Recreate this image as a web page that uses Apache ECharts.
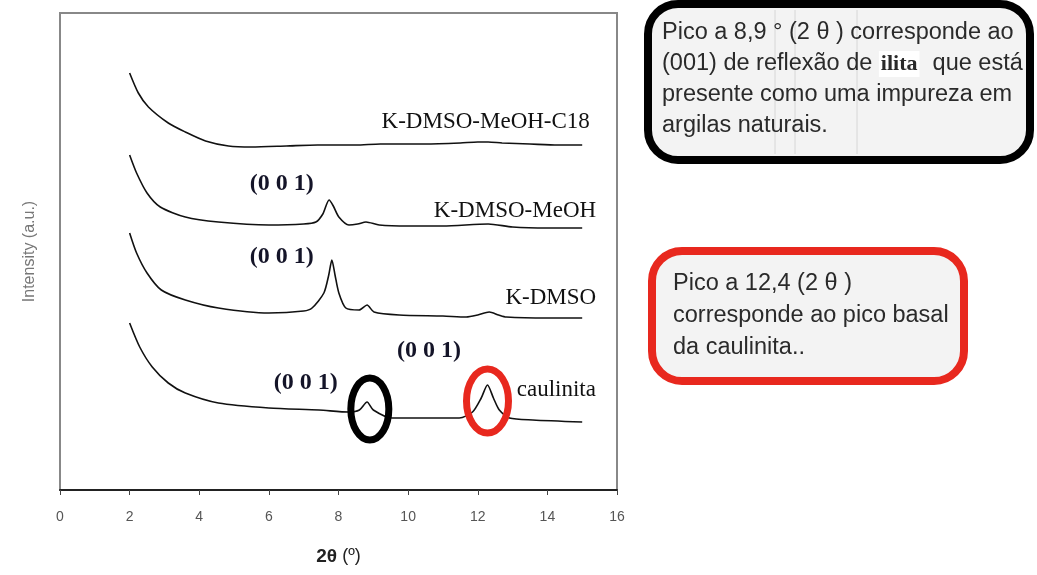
<!DOCTYPE html>
<html>
<head>
<meta charset="utf-8">
<script src="https://cdn.jsdelivr.net/npm/echarts@6/dist/echarts.min.js"></script>
<style>
  html, body { margin: 0; padding: 0; background: #fff; }
  #chart { width: 1037px; height: 575px; }
</style>
</head>
<body>
<div id="chart"></div>
<script>
// 2theta ticks
let xTicks = [0, 2, 4, 6, 8, 10, 12, 14, 16];

// K-DMSO-MeOH-C18 (top trace)
let c18X = [2.0, 2.25, 2.54, 3.11, 3.6, 4.18, 4.84, 5.5, 6.5, 7.4, 8.5, 9.2, 10.5, 11.5, 12.0, 12.3, 12.7, 13.5, 14.3, 15.0];
let c18Y = [417, 397, 383, 367, 358, 349, 344, 343, 344, 345, 345, 346, 346, 347, 348, 348, 347, 346, 345, 345];

// K-DMSO-MeOH
let meohX = [2.0, 2.2, 2.5, 2.88, 3.6, 4.55, 6.0, 7.0, 7.35, 7.55, 7.73, 7.85, 8.01, 8.3, 8.55, 8.79, 9.17, 10.0, 11.0, 12.3, 13.0, 14.0, 15.0];
let meohY = [335, 317, 297, 283, 273, 268, 265, 266, 268, 276, 290, 284, 273, 265, 266, 268, 265, 264, 264, 266, 263, 262, 262];

// K-DMSO
let dmsoX = [2.0, 2.2, 2.5, 2.91, 3.6, 4.55, 6.0, 7.0, 7.24, 7.58, 7.72, 7.81, 7.9, 8.01, 8.21, 8.59, 8.82, 9.02, 9.74, 11.0, 11.67, 12.0, 12.33, 12.6, 12.82, 14.0, 15.0];
let dmsoY = [257, 237, 217, 200, 190, 182, 177, 179, 182, 197, 215, 230, 215, 197, 182, 180, 185, 178, 175, 174, 173, 175, 178, 175, 173, 172, 172];

// caulinita (bottom trace)
let kaolX = [2.0, 2.29, 2.65, 3.11, 3.6, 4.55, 6.0, 7.44, 8.3, 8.6, 8.82, 9.0, 9.54, 10.7, 11.47, 11.85, 12.1, 12.28, 12.45, 12.62, 12.91, 13.58, 15.0];
let kaolY = [167, 143, 123, 107, 97, 87, 82, 80, 78, 80, 88, 80, 72, 72, 72, 78, 92, 105, 92, 80, 72, 70, 68];

// labels inside the plot, placed in data units
let traceNames = ['K-DMSO-MeOH-C18', 'K-DMSO-MeOH', 'K-DMSO', 'caulinita'];
let nameAt = [[15.22, 368], [15.4, 279], [15.4, 192], [13.12, 100]];
let peakText = '(0 0 1)';
let peakAt = [[6.37, 306], [6.37, 233], [10.6, 139], [7.06, 107]];
let ilitaPeak = [8.9, 81];
let caulPeak = [12.28, 89];

function zip(xs, ys) {
    return xs.map(function (x, i) { return [x, ys[i]]; });
}

let lineSeries = function (xs, ys) {
    return {
        type: 'line', data: zip(xs, ys), showSymbol: false, smooth: 0.25,
        lineStyle: {color: '#111', width: 1.6}, silent: true
    };
};

let chart = echarts.init(document.getElementById('chart'));
chart.setOption({
    animation: false,
    grid: {left: 60, right: 420, top: 13, bottom: 85, show: true, borderColor: '#888', borderWidth: 2},
    xAxis: {
        type: 'value', min: xTicks[0], max: xTicks[xTicks.length - 1], interval: 2,
        axisLine: {lineStyle: {color: '#222', width: 2}},
        axisTick: {show: true, inside: false, length: 5, lineStyle: {color: '#444'}},
        splitLine: {show: false},
        axisLabel: {color: '#555', fontSize: 14, fontFamily: 'Liberation Sans', margin: 20},
        name: '{b|2θ} (º)', nameLocation: 'middle', nameGap: 57,
        nameTextStyle: {
            color: '#222', fontSize: 18, fontFamily: 'Liberation Sans',
            rich: {b: {fontSize: 19, fontWeight: 'bold', color: '#222', fontFamily: 'Liberation Sans'}}
        }
    },
    yAxis: {
        type: 'value', min: 0, max: 477,
        axisLine: {show: false}, axisTick: {show: false}, axisLabel: {show: false}, splitLine: {show: false},
        name: 'Intensity (a.u.)', nameLocation: 'middle', nameGap: 22, nameRotate: 90,
        nameTextStyle: {color: '#777', fontSize: 16, fontFamily: 'Liberation Sans'}
    },
    series: [
        lineSeries(c18X, c18Y),
        lineSeries(meohX, meohY),
        lineSeries(dmsoX, dmsoY),
        lineSeries(kaolX, kaolY)
    ]
});

function px(p) {
    return chart.convertToPixel({gridIndex: 0}, p);
}

let g = [];
// trace names (serif)
traceNames.forEach(function (t, i) {
    let p = px(nameAt[i]);
    g.push({
        type: 'text', z: 10,
        style: {
            text: t, x: p[0], y: p[1], fill: '#111',
            font: '23px "Liberation Serif"',
            align: i === 3 ? 'left' : 'right', verticalAlign: 'middle'
        }
    });
});
// (0 0 1) labels
peakAt.forEach(function (a) {
    let p = px(a);
    g.push({
        type: 'text', z: 10,
        style: {text: peakText, x: p[0], y: p[1], fill: '#141428', font: 'bold 24px "Liberation Serif"', align: 'center', verticalAlign: 'middle'}
    });
});
// circles around the peaks
let e1 = px(ilitaPeak);
g.push({type: 'ellipse', z: 12, shape: {cx: e1[0], cy: e1[1], rx: 19, ry: 31}, style: {fill: null, stroke: '#000', lineWidth: 7}});
let e2 = px(caulPeak);
g.push({type: 'ellipse', z: 12, shape: {cx: e2[0], cy: e2[1], rx: 21, ry: 32}, style: {fill: null, stroke: '#e8281e', lineWidth: 7}});

// note boxes on the right
g.push({type: 'rect', z: 5, shape: {x: 648, y: 4, width: 382, height: 156, r: 30}, style: {fill: '#f3f3f3', stroke: '#000', lineWidth: 8}});
[775, 795, 857].forEach(function (x) {
    g.push({type: 'line', z: 6, shape: {x1: x, y1: 10, x2: x, y2: 154}, style: {stroke: '#d6d6d6', lineWidth: 1}});
});
let note1 = [
    'Pico a 8,9 ° (2 θ ) corresponde ao',
    '(001) de reflexão de {i|ilita}  que está',
    'presente como uma impureza em',
    'argilas naturais.'
];
note1.forEach(function (t, i) {
    g.push({
        type: 'text', z: 7,
        style: {
            text: t, x: 662, y: 33 + i * 31, fill: '#2a2a2a', font: '23.5px "Liberation Sans"', verticalAlign: 'middle',
            rich: {i: {fontFamily: 'Liberation Serif', fontSize: 22, fontWeight: 'bold', color: '#111', backgroundColor: '#fff', padding: [2, 2, 2, 2]}}
        }
    });
});

g.push({type: 'rect', z: 5, shape: {x: 652, y: 251, width: 312, height: 130, r: 30}, style: {fill: '#f3f3f3', stroke: '#e8281e', lineWidth: 8}});
let note2 = ['Pico a 12,4 (2 θ )', 'corresponde ao pico basal', 'da caulinita..'];
note2.forEach(function (t, i) {
    g.push({
        type: 'text', z: 7,
        style: {text: t, x: 673, y: 284 + i * 32, fill: '#2a2a2a', font: '23.5px "Liberation Sans"', verticalAlign: 'middle'}
    });
});

chart.setOption({graphic: g});
</script>
</body>
</html>
